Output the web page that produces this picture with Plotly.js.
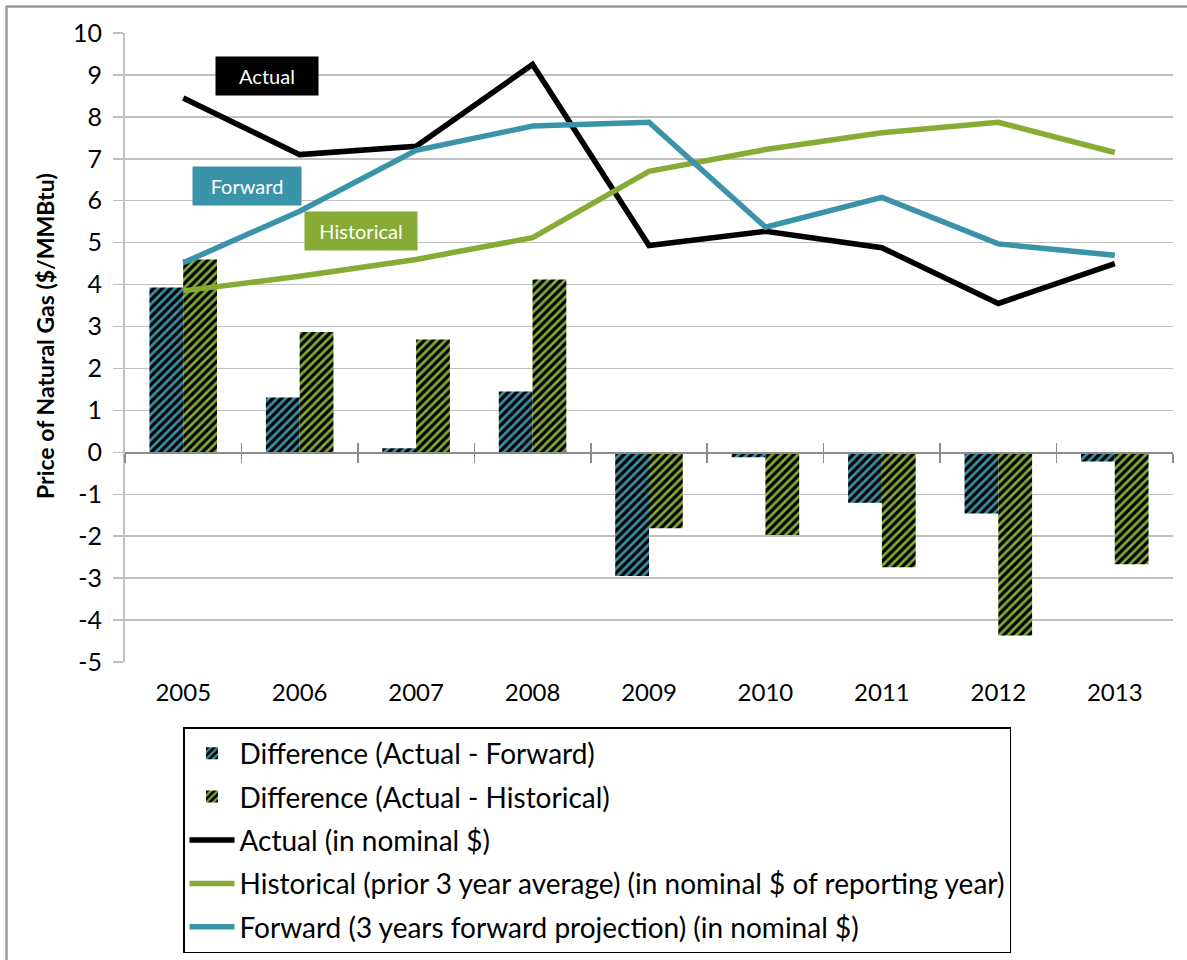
<!DOCTYPE html>
<html>
<head>
<meta charset="utf-8">
<script src="https://cdn.plot.ly/plotly-3.0.1.min.js"></script>
<style>html,body{margin:0;padding:0;background:#fff;}#chart{width:1187px;height:960px;}</style>
</head>
<body>
<div id="chart"></div>
<script>
const years = ['2005','2006','2007','2008','2009','2010','2011','2012','2013'];
const actual = [8.45, 7.10, 7.30, 9.25, 4.93, 5.27, 4.88, 3.55, 4.50];
const forward = [4.52, 5.75, 7.20, 7.78, 7.87, 5.37, 6.08, 4.97, 4.70];
const historical = [3.85, 4.20, 4.60, 5.12, 6.70, 7.22, 7.62, 7.87, 7.15];
const diffForward = [3.93, 1.31, 0.10, 1.45, -2.95, -0.12, -1.20, -1.46, -0.22];
const diffHistorical = [4.60, 2.87, 2.69, 4.12, -1.81, -1.97, -2.74, -4.37, -2.67];
const yTicks = [-5,-4,-3,-2,-1,0,1,2,3,4,5,6,7,8,9,10];
const yTickText = ['-5','-4','-3','-2','-1','0','1','2','3','4','5','6','7','8','9','10'];
const yTitle = 'Price of Natural Gas ($/MMBtu)';

const BLUE = '#3A93A8';
const GREEN = '#86AC35';
const FONT = 'Lato, "Open Sans", sans-serif';

const traces = [
  {type:'bar', x:years, y:diffForward, name:'Difference (Actual - Forward)', legendgroup:'a',
   marker:{color:BLUE, line:{width:0}, pattern:{shape:'/', bgcolor:'#000', fgcolor:BLUE, size:6, solidity:0.45}}},
  {type:'bar', x:years, y:diffHistorical, name:'Difference (Actual - Historical)', legendgroup:'b',
   marker:{color:GREEN, line:{width:0}, pattern:{shape:'/', bgcolor:'#000', fgcolor:GREEN, size:6, solidity:0.45}}},
  {type:'scatter', mode:'lines', x:years, y:actual, name:'Actual (in nominal $)', legendgroup:'c',
   xaxis:'x2', line:{color:'#000', width:5.5}},
  {type:'scatter', mode:'lines', x:years, y:historical, name:'Historical (prior 3 year average) (in nominal $ of reporting year)', legendgroup:'d',
   xaxis:'x2', line:{color:GREEN, width:5.5}},
  {type:'scatter', mode:'lines', x:years, y:forward, name:'Forward (3 years forward projection) (in nominal $)', legendgroup:'e',
   xaxis:'x2', line:{color:BLUE, width:5.5}},
  {type:'scatter', mode:'lines', x:years, y:years.map(()=>null), xaxis:'x3', showlegend:false, hoverinfo:'skip'}
];

const zeroPos = 5/15;
const layout = {
  width:1187, height:960,
  margin:{l:125, r:14, t:33, b:298, autoexpand:false},
  paper_bgcolor:'#fff', plot_bgcolor:'#fff',
  font:{family:FONT, color:'#000', size:20},
  showlegend:true,
  barmode:'group', bargap:0.42, bargroupgap:0,
  xaxis:{type:'category', categoryorder:'array', categoryarray:years, range:[-0.5,8.5],
    showgrid:false, zeroline:false, showline:false, ticks:'', ticklabelstandoff:14,
    tickfont:{family:FONT, size:24, color:'#000'}},
  xaxis2:{type:'category', categoryorder:'array', categoryarray:years, range:[-0.5,8.5],
    overlaying:'x', anchor:'free', position:zeroPos, showgrid:false, zeroline:false,
    showline:true, linecolor:'#8c8c8c', linewidth:1.5, ticks:'outside', ticklen:9, tickwidth:1.5, tickcolor:'#8c8c8c',
    tickson:'boundaries', showticklabels:false},
  xaxis3:{type:'category', categoryorder:'array', categoryarray:years, range:[-0.5,8.5],
    overlaying:'x', anchor:'free', position:zeroPos, showgrid:false, zeroline:false,
    showline:false, ticks:'inside', ticklen:9, tickwidth:1.5, tickcolor:'#8c8c8c',
    tickson:'boundaries', showticklabels:false},
  yaxis:{range:[-5,10], tickmode:'array', tickvals:yTicks, ticktext:yTickText,
    showgrid:true, gridcolor:'#c0c0c0', gridwidth:1.5, zeroline:false,
    showline:true, linecolor:'#c0c0c0', linewidth:2,
    ticks:'outside', ticklen:10, tickcolor:'#c0c0c0', tickwidth:1.5, ticklabelstandoff:6,
    tickfont:{family:FONT, size:25, color:'#000'}},
  legend:{x:58/1048, xanchor:'left', y:-65/629, yanchor:'top',
    bgcolor:'#fff', bordercolor:'#000', borderwidth:1.5,
    font:{family:FONT, size:28, color:'#000'},
    traceorder:'grouped', tracegroupgap:4, itemwidth:45},
  annotations:[
    {xref:'paper', yref:'paper', x:(45-125)/1048, y:(662-336)/629, text:'<b>'+yTitle+'</b>', textangle:-90,
     showarrow:false, xanchor:'center', yanchor:'middle', font:{family:FONT, size:23, color:'#000'}},
    {xref:'x', yref:'y', x:0.72, y:8.97, text:'Actual', showarrow:false,
     bgcolor:'#000', width:100, height:36, font:{family:FONT, size:20, color:'#fff'}},
    {xref:'x', yref:'y', x:0.55, y:6.35, text:'Forward', showarrow:false,
     bgcolor:BLUE, width:106, height:36, font:{family:FONT, size:20, color:'#fff'}},
    {xref:'x', yref:'y', x:1.53, y:5.27, text:'Historical', showarrow:false,
     bgcolor:GREEN, width:110, height:36, font:{family:FONT, size:20, color:'#fff'}}
  ],
  shapes:[
    {type:'line', xref:'paper', yref:'paper', x0:(6.5-125)/1048, x1:(6.5-125)/1048, y0:(662-6)/629, y1:(662-960)/629,
     line:{color:'#999', width:2.5}},
    {type:'line', xref:'paper', yref:'paper', x0:(6-125)/1048, x1:(1187-125)/1048, y0:(662-6.5)/629, y1:(662-6.5)/629,
     line:{color:'#999', width:2.5}}
  ]
};

Plotly.newPlot('chart', traces, layout, {staticPlot:true, displayModeBar:false});
</script>
</body>
</html>
